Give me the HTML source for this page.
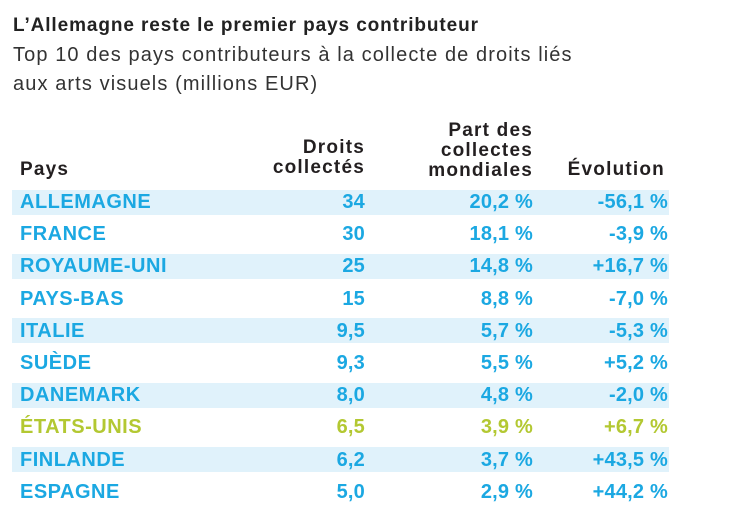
<!DOCTYPE html>
<html><head><meta charset="utf-8"><style>
body{margin:0;width:730px;height:512px;background:#fff;position:relative;overflow:hidden;font-family:"Liberation Sans",sans-serif;}
.a{position:absolute;white-space:nowrap;}
.t{left:13px;top:15px;font-size:19px;font-weight:bold;color:#222;letter-spacing:0.9px;}
.s{left:13px;font-size:20px;color:#333;letter-spacing:1.1px;}
.h{font-size:19px;font-weight:bold;color:#231f20;line-height:20px;text-align:right;letter-spacing:1.2px;}
.band{position:absolute;left:12px;width:657px;height:25px;background:#e0f2fb;}
.c{font-size:20px;font-weight:bold;line-height:24px;letter-spacing:0.5px;}
.r{text-align:right;letter-spacing:0.2px;}
</style></head><body>
<div class="a t">L’Allemagne reste le premier pays contributeur</div>
<div class="a s" style="top:44px">Top 10 des pays contributeurs à la collecte de droits liés</div>
<div class="a s" style="top:73px">aux arts visuels (millions EUR)</div>
<div class="a h" style="left:20px;top:160px;text-align:left">Pays</div>
<div class="a h" style="right:365px;top:138px">Droits<br>collectés</div>
<div class="a h" style="right:197px;top:121px">Part des<br>collectes<br>mondiales</div>
<div class="a h" style="right:65px;top:160px">Évolution</div>
<div id="rows"></div>
<script>
const countries=["ALLEMAGNE","FRANCE","ROYAUME-UNI","PAYS-BAS","ITALIE","SUÈDE","DANEMARK","ÉTATS-UNIS","FINLANDE","ESPAGNE"];
const droits=["34","30","25","15","9,5","9,3","8,0","6,5","6,2","5,0"];
const parts=["20,2 %","18,1 %","14,8 %","8,8 %","5,7 %","5,5 %","4,8 %","3,9 %","3,7 %","2,9 %"];
const evol=["-56,1 %","-3,9 %","+16,7 %","-7,0 %","-5,3 %","+5,2 %","-2,0 %","+6,7 %","+43,5 %","+44,2 %"];
const root=document.getElementById('rows');
countries.forEach((c,i)=>{
  const cy=202+32.2*i;
  const col=c==="ÉTATS-UNIS"?"#b3c832":"#1ba8e2";
  if(i%2===0){
    const b=document.createElement('div');b.className='band';
    b.style.top=(cy-12.5)+'px';
    
    
    root.appendChild(b);
  }
  const cells=[[c,'left:20px','country'],[droits[i],'right:365px','droits'],[parts[i],'right:197px','part'],[evol[i],'right:62px','evolution']];
  cells.forEach(([txt,pos,nm])=>{
    const d=document.createElement('div');d.className='a c'+(nm==='country'?'':' r');
    d.style.cssText+=pos+';top:'+(cy-12)+'px;color:'+col;
    d.textContent=txt;
    
    
    root.appendChild(d);
  });
});
</script>
</body></html>
